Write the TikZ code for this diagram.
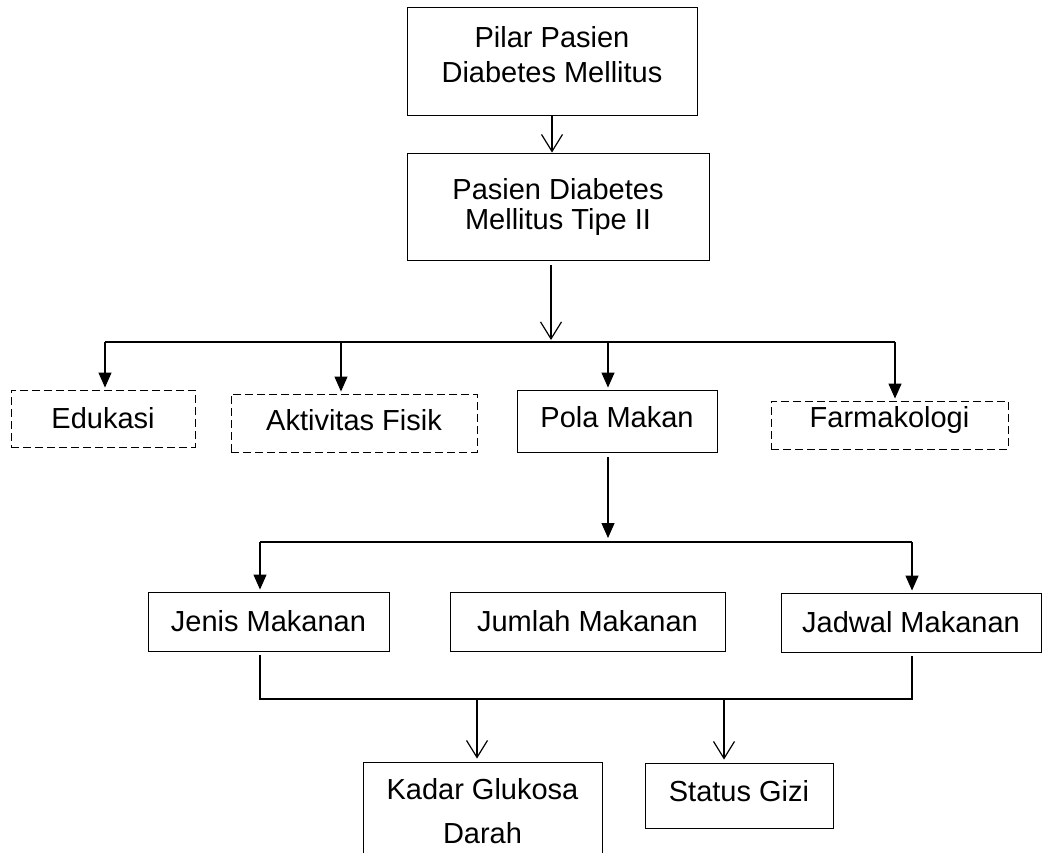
\documentclass[tikz,border=0pt]{standalone}
\usepackage{fontspec}
\setmainfont{Liberation Sans}
\usetikzlibrary{arrows.meta}

\begin{document}
\begin{tikzpicture}[x=1pt, y=-1pt,
    kotak/.style={draw, line width=0.9pt, inner sep=0pt, align=center,
        font=\fontsize{29}{35}\selectfont},
    kotakputus/.style={kotak, dash pattern=on 8pt off 4pt},
    garis/.style={line width=1.2pt},
    panahbuka/.style={garis, -{Straight Barb[length=17pt, width=21pt]}},
    panahisi/.style={garis, -{Triangle[length=15pt, width=13pt]}}]

    \useasboundingbox (0,0) rectangle (1043,852);
    \clip (0,0) rectangle (1043,852);

    % Draw the boxes
    \node[kotak, minimum width=290pt, minimum height=108pt, text depth=14pt] (pilar) at (552,61) {Pilar Pasien\\Diabetes Mellitus};
    \node[kotak, minimum width=302pt, minimum height=107pt, font=\fontsize{29}{30}\selectfont] (pasien) at (558,206.5) {Pasien Diabetes\\Mellitus Tipe II};

    \node[kotakputus, minimum width=184pt, minimum height=57pt] (edukasi) at (103,418.5) {Edukasi};
    \node[kotakputus, minimum width=246pt, minimum height=58pt, text depth=7pt] (aktivitas) at (354,423) {Aktivitas Fisik};
    \node[kotak, minimum width=200pt, minimum height=62pt, text depth=9pt] (pola) at (617,421) {Pola Makan};
    \node[kotakputus, minimum width=237pt, minimum height=48pt, text depth=17pt] (farmako) at (889.5,425) {Farmakologi};

    \node[kotak, minimum width=241pt, minimum height=59pt] (jenis) at (268.5,621.5) {Jenis Makanan};
    \node[kotak, minimum width=275pt, minimum height=59pt] (jumlah) at (587.5,621.5) {Jumlah Makanan};
    \node[kotak, minimum width=260pt, minimum height=59pt] (jadwal) at (911,622.5) {Jadwal Makanan};

    \node[kotak, minimum width=239pt, minimum height=108pt, text depth=10pt, font=\fontsize{29}{44}\selectfont] (kadar) at (482.5,816) {Kadar Glukosa\\Darah};
    \node[kotak, minimum width=188pt, minimum height=65pt, text depth=9pt] (status) at (739,795.5) {Status Gizi};

    % Branch points
    \coordinate (cabang1) at (551,342);
    \coordinate (kiri1) at (105,342);
    \coordinate (tengah1) at (341,342);
    \coordinate (pola1) at (608,342);
    \coordinate (kanan1) at (895,342);

    \coordinate (cabang2) at (608,542);
    \coordinate (kiri2) at (260,542);
    \coordinate (kanan2) at (912,542);

    \coordinate (kiri3) at (260,699);
    \coordinate (kanan3) at (912,699);
    \coordinate (kadar3) at (477,699);
    \coordinate (status3) at (724,699);

    % Pillar to type II patients
    \draw[panahbuka] (pilar.south) -- (pilar.south |- pasien.north);
    \draw[panahbuka] ([yshift=-5pt]pasien.south -| cabang1) -- ([yshift=2pt]cabang1);

    % The four pillars
    \draw[garis, line width=1.5pt] (kiri1) -- (kanan1);
    \draw[panahisi] (kiri1) -- ([yshift=2pt]kiri1 |- edukasi.north);
    \draw[panahisi] (tengah1) -- ([yshift=2pt]tengah1 |- aktivitas.north);
    \draw[panahisi] (pola1) -- ([yshift=2pt]pola1 |- pola.north);
    \draw[panahisi] (kanan1) -- ([yshift=2pt]kanan1 |- farmako.north);

    % Eating pattern
    \draw[panahisi] ([yshift=-5pt]pola.south -| cabang2) -- ([yshift=4pt]cabang2);
    \draw[garis, line width=1.5pt] (kiri2) -- (kanan2);
    \draw[panahisi] (kiri2) -- ([yshift=2pt]kiri2 |- jenis.north);
    \draw[panahisi] (kanan2) -- ([yshift=2pt]kanan2 |- jadwal.north);

    % Outcomes
    \draw[garis] ([yshift=-4pt]jenis.south -| kiri3) -- (kiri3) -- (kanan3) -- ([yshift=-4pt]jadwal.south -| kanan3);
    \draw[panahbuka, shorten >=3pt] (kadar3) -- (kadar3 |- kadar.north);
    \draw[panahbuka, shorten >=3pt] (status3) -- (status3 |- status.north);
\end{tikzpicture}
\end{document}
